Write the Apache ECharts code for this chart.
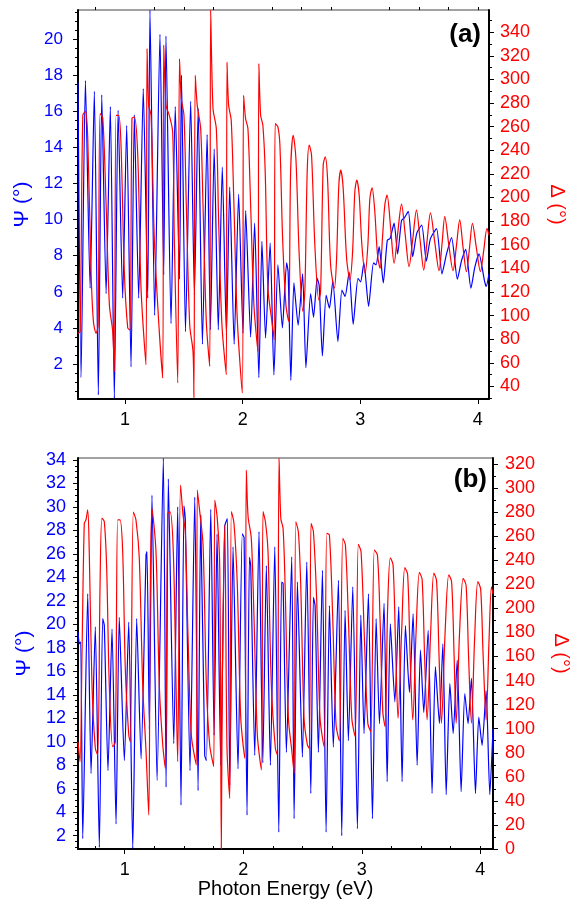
<!DOCTYPE html>
<html>
<head>
<meta charset="utf-8">
<script src="https://cdn.jsdelivr.net/npm/echarts@6/dist/echarts.min.js"></script>
<style>
html,body{margin:0;padding:0;background:#fff;}
#c{width:581px;height:908px;}
</style>
</head>
<body>
<div id="c"></div>
<script>
// ---------- Panel (a) ----------
const aPsiE = [0.600,0.626,0.663,0.703,0.739,0.773,0.802,0.839,0.875,0.909,0.941,0.980,1.014,1.051,1.079,1.116,1.155,1.193,1.212,1.252,1.297,1.329,1.348,1.391,1.427,1.463,1.480,1.514,1.558,1.590,1.622,1.658,1.698,1.726,1.758,1.793,1.827,1.862,1.890,1.928,1.966,2.003,2.026,2.068,2.102,2.138,2.164,2.195,2.234,2.266,2.300,2.338,2.374,2.387,2.410,2.436,2.472,2.510,2.538,2.578,2.603,2.634,2.651,2.678,2.710,2.738,2.767,2.810,2.844,2.871,2.906,2.940,2.981,3.003,3.031,3.071,3.113,3.135,3.161,3.196,3.230,3.254,3.288,3.318,3.351,3.375,3.409,3.446,3.481,3.523,3.562,3.597,3.649,3.695,3.734,3.777,3.826,3.862,3.897,3.941,3.974,4.010,4.057,4.071,4.095];
const aPsi  = [17.6,1.25,17.7,6.2,17.1,0.3,16.9,5.9,16.25,0.1,16.05,5.65,15.2,1.85,15.8,5.65,17.25,5.65,21.6,4.7,20.25,6.95,20.15,4.25,16.25,6.7,18.0,3.8,16.55,5.85,16.15,3.1,14.7,3.9,13.9,3.9,12.9,3.6,11.8,3.1,11.4,3.7,10.5,3.5,9.8,1.25,8.8,3.45,8.7,1.4,7.5,4.0,7.6,7.1,1.1,6.5,4.15,7.0,1.8,5.9,4.6,6.75,6.35,2.45,5.8,5.1,6.6,3.25,6.1,5.75,7.1,4.2,6.75,6.55,7.6,5.2,7.6,7.5,8.5,6.5,8.85,8.95,9.8,8.1,9.95,10.1,10.45,7.95,9.25,9.7,7.7,8.95,9.5,7.0,8.1,9.0,6.7,7.75,8.35,6.2,7.35,8.1,6.6,6.3,7.0];
const aDelE = [0.600,0.618,0.641,0.663,0.683,0.711,0.731,0.754,0.771,0.788,0.811,0.839,0.867,0.895,0.909,0.924,0.946,0.966,0.994,1.023,1.042,1.059,1.079,1.108,1.136,1.178,1.187,1.201,1.221,1.249,1.286,1.320,1.329,1.348,1.376,1.405,1.419,1.448,1.463,1.478,1.501,1.521,1.550,1.578,1.586,1.597,1.614,1.643,1.663,1.691,1.720,1.728,1.748,1.776,1.796,1.824,1.861,1.867,1.881,1.903,1.926,1.954,1.997,2.008,2.025,2.045,2.068,2.096,2.130,2.138,2.153,2.172,2.192,2.215,2.249,2.268,2.277,2.300,2.317,2.340,2.368,2.391,2.408,2.430,2.453,2.481,2.512,2.529,2.549,2.566,2.586,2.614,2.648,2.663,2.685,2.702,2.722,2.748,2.780,2.799,2.818,2.835,2.855,2.884,2.912,2.935,2.954,2.971,2.991,3.014,3.042,3.065,3.082,3.101,3.124,3.147,3.169,3.189,3.209,3.228,3.258,3.288,3.319,3.351,3.383,3.415,3.447,3.478,3.509,3.540,3.568,3.597,3.634,3.670,3.695,3.719,3.753,3.789,3.818,3.846,3.874,3.903,3.929,3.954,3.988,4.022,4.050,4.078,4.095];
const aDel  = [85,86.5,269.6,273,250,137,95,85,92,271,267,194,109,86.5,52.7,269.6,269.6,244,137,89.4,88,267,268,236,123,58.4,326,278,269.6,165,95,47,329,278,269.6,255.5,165,43,317.5,283.7,269.6,193.6,92,69.6,30.2,303.4,278,258.4,193.6,95,57,358.8,275.3,258.4,179.5,92,50,314.6,278,265.4,193.6,97.8,34.4,286.5,266.8,258.4,193.6,109,69.6,313.3,269.6,261.2,221.7,123.2,95,79.5,262.6,259.7,244.3,165.4,109,95,221.7,252.7,233,151.3,103.4,120.3,221.7,244.3,235.8,159.8,113.3,120.3,227.4,234.4,216.1,142.9,123.2,148.5,210.5,223.1,207.7,148.5,130.2,154.1,204.8,214.7,202,159.8,135.8,159.8,199.2,208.2,187.9,151.3,140.1,165.4,193.6,202,175,144.3,170,194.4,168,141.4,165,189.3,164,138.6,163,187,162,138,160,183.7,160,138,159,181,158,137.2,157,178,157,137.2,155,173.9,168];

// ---------- Panel (b) ----------
const bPsiE = [0.606,0.617,0.629,0.646,0.688,0.716,0.752,0.786,0.814,0.828,0.859,0.893,0.927,0.954,0.997,1.034,1.068,1.101,1.138,1.180,1.188,1.208,1.230,1.273,1.326,1.349,1.368,1.414,1.447,1.475,1.500,1.511,1.551,1.591,1.619,1.641,1.675,1.689,1.726,1.754,1.779,1.810,1.844,1.866,1.886,1.914,1.956,1.992,2.007,2.032,2.052,2.063,2.097,2.133,2.165,2.195,2.229,2.266,2.300,2.323,2.336,2.364,2.409,2.429,2.457,2.499,2.536,2.570,2.592,2.606,2.634,2.668,2.699,2.727,2.760,2.803,2.831,2.859,2.887,2.924,2.963,2.992,3.019,3.056,3.090,3.121,3.149,3.188,3.214,3.241,3.279,3.312,3.340,3.368,3.402,3.433,3.467,3.495,3.523,3.560,3.593,3.621,3.655,3.684,3.712,3.743,3.771,3.805,3.838,3.869,3.897,3.925,3.959,3.987,4.015,4.049,4.080,4.107];
const bPsi  = [19.35,18.35,18.5,1.75,22.6,7.3,19.8,1.0,20.5,19.9,7.55,19.6,3.0,20.6,8.4,20.2,0.9,20.5,8.55,25.9,26.2,11.1,31.0,6.7,34.17,6.15,32.4,9.85,30.0,4.6,30.1,29.0,7.55,30.85,5.85,29.3,8.85,8.4,29.8,10.55,27.7,8.0,28.4,29.0,6.3,26.6,7.7,27.7,27.4,3.75,25.7,25.0,8.85,27.9,8.2,25.0,8.0,26.6,2.3,23.6,23.5,9.1,25.75,3.45,23.6,8.7,25.3,5.6,22.3,21.6,9.1,24.6,2.3,21.6,9.55,23.75,2.0,21.2,10.1,23.2,2.6,20.8,10.7,22.6,3.45,20.5,11.55,21.8,6.6,20.05,13.4,21.5,6.6,19.9,14.2,20.9,8.0,17.8,12.5,19.5,5.6,16.4,11.55,18.35,5.5,14.95,10.7,16.95,5.75,14.1,11.55,15.4,5.6,12.1,9.7,14.35,5.5,11.1];
const bDelE = [0.606,0.623,0.640,0.659,0.673,0.688,0.701,0.724,0.752,0.772,0.792,0.808,0.828,0.848,0.870,0.899,0.921,0.941,0.960,0.983,1.005,1.034,1.047,1.073,1.095,1.123,1.152,1.180,1.203,1.214,1.230,1.264,1.292,1.321,1.343,1.363,1.382,1.410,1.433,1.447,1.471,1.492,1.511,1.534,1.562,1.604,1.613,1.633,1.661,1.689,1.717,1.751,1.760,1.781,1.802,1.815,1.824,1.844,1.863,1.886,1.900,1.922,1.950,1.979,2.013,2.026,2.041,2.068,2.091,2.119,2.153,2.167,2.187,2.209,2.237,2.271,2.288,2.302,2.317,2.336,2.353,2.381,2.409,2.429,2.443,2.465,2.485,2.513,2.541,2.558,2.572,2.592,2.620,2.648,2.682,2.705,2.727,2.755,2.783,2.811,2.840,2.862,2.887,2.916,2.944,2.971,2.994,3.022,3.051,3.076,3.106,3.132,3.154,3.177,3.197,3.218,3.241,3.264,3.285,3.306,3.336,3.363,3.387,3.408,3.430,3.458,3.486,3.509,3.530,3.551,3.581,3.608,3.631,3.652,3.672,3.703,3.734,3.758,3.779,3.796,3.825,3.855,3.880,3.901,3.925,3.952,3.979,4.003,4.024,4.049,4.074,4.094,4.107];
const bDel  = [89,72.6,164,270.6,273.5,281.8,247,136,84,78,219,275,272,233,136,85,89,273.5,273.5,247,150,95,89,280,273.5,241.6,136,81,28.3,192,283,247,136,86.5,67,279,280.4,247,136,72.6,302.5,277.6,263.7,178,94.8,69.9,298.4,280.4,252.7,136,86.5,68.5,290,274.8,233,0,142,269,83.7,42,280.4,270.6,219.4,108.6,75.4,315,276.2,258.2,191.7,94.8,65.7,280.4,272,247,136,83.7,78.2,325,274.8,266.5,219.4,108.6,82.3,62.9,272,263.7,219.4,108.6,86.5,83.7,270.6,263.7,205.6,108.6,85,262.3,261,191.7,103,89.8,258.2,252.7,191.7,108.6,93.4,253.2,247.1,175.1,104.4,97.5,248.5,244.4,191.7,114.2,101.7,200,242.1,236,170,108.6,180,233.8,228,160,107.3,180,229.9,224,160,107.3,180,229.4,223,160,104.5,180,227.8,222,160,104.5,180,224.9,219,160,104.5,175,222.2,216,160,107.3,175,218,212];

// ---------- Tick labels ----------
const xMajor = [1,2,3,4];
const xMinor = [0.75,1.25,1.5,1.75,2.25,2.5,2.75,3.25,3.5,3.75,4.0];
const aPsiTicks = [2,4,6,8,10,12,14,16,18,20];
const aDelTicks = [40,60,80,100,120,140,160,180,200,220,240,260,280,300,320,340];
const bPsiTicks = [2,4,6,8,10,12,14,16,18,20,22,24,26,28,30,32,34];
const bDelTicks = [0,20,40,60,80,100,120,140,160,180,200,220,240,260,280,300,320];

function minorOf(major, step, lo, hi){
  const out=[];
  for(let v=lo; v<=hi+1e-9; v+=step){
    const r=Math.round(v*1000)/1000;
    if(!major.some(m=>Math.abs(m-r)<1e-6)) out.push(r);
  }
  return out;
}
const zip=(xs,ys)=>xs.map((x,i)=>[x,ys[i]]);

const FONT = "'Liberation Sans', Arial, Helvetica, sans-serif";
const BLUE = '#0000ff', RED = '#ff0000';

function xAxes(grid, min, max, withName, margin){
  return [{
    type:'value', gridIndex:grid, min:min, max:max,
    axisLine:{show:true, lineStyle:{color:'#000', width:2}},
    axisTick:{show:true, length:5, customValues:xMajor, lineStyle:{color:'#000', width:1}},
    axisLabel:{show:true, customValues:xMajor, color:'#000', fontSize:18, fontFamily:FONT, margin:margin},
    splitLine:{show:false},
    name: withName ? 'Photon Energy (eV)' : '',
    nameLocation:'middle', nameGap:30,
    nameTextStyle:{color:'#000', fontSize:20, fontFamily:FONT}
  },{
    type:'value', gridIndex:grid, min:min, max:max,
    axisLine:{show:false},
    axisTick:{show:true, length:3, customValues:xMinor, lineStyle:{color:'#000', width:1}},
    axisLabel:{show:false}, splitLine:{show:false}
  }];
}
function yAxes(grid, psiMin, psiMax, psiTicks, psiMinorStep, delMin, delMax, delTicks, delMinorStep, psiFont, psiMargin, delMargin){
  return [{
    type:'value', gridIndex:grid, position:'left', min:psiMin, max:psiMax,
    axisLine:{show:true, lineStyle:{color:'#000', width:2}},
    axisTick:{show:true, length:5, customValues:psiTicks, lineStyle:{color:'#000'}},
    axisLabel:{customValues:psiTicks, color:BLUE, fontSize:psiFont, fontFamily:FONT, margin:psiMargin},
    splitLine:{show:false},
    name:'Ψ (°)', nameLocation:'middle', nameGap:42, nameRotate:90,
    nameTextStyle:{color:BLUE, fontSize:21, fontFamily:FONT}
  },{
    type:'value', gridIndex:grid, position:'right', min:delMin, max:delMax,
    axisLine:{show:true, lineStyle:{color:'#000', width:2}},
    axisTick:{show:true, length:5, customValues:delTicks, lineStyle:{color:'#000'}},
    axisLabel:{customValues:delTicks, color:RED, fontSize:18, fontFamily:FONT, margin:delMargin},
    splitLine:{show:false},
    name:'Δ (°)', nameLocation:'middle', nameGap:58, nameRotate:-90,
    nameTextStyle:{color:RED, fontSize:20, fontFamily:FONT}
  },{
    type:'value', gridIndex:grid, position:'left', min:psiMin, max:psiMax,
    axisLine:{show:false},
    axisTick:{show:true, length:3, customValues:minorOf(psiTicks, psiMinorStep, Math.ceil(psiMin/psiMinorStep)*psiMinorStep, psiMax), lineStyle:{color:'#000'}},
    axisLabel:{show:false}, splitLine:{show:false}
  },{
    type:'value', gridIndex:grid, position:'right', min:delMin, max:delMax,
    axisLine:{show:false},
    axisTick:{show:true, length:3, customValues:minorOf(delTicks, delMinorStep, Math.ceil(delMin/delMinorStep)*delMinorStep, delMax), lineStyle:{color:'#000'}},
    axisLabel:{show:false}, splitLine:{show:false}
  }];
}

const chart = echarts.init(document.getElementById('c'), null, {renderer:'canvas'});
chart.setOption({
  animation:false,
  backgroundColor:'#fff',
  textStyle:{fontFamily:FONT},
  title:[
    {text:'(a)', right:95, top:17, textStyle:{fontSize:26, fontWeight:'bold', color:'#000', fontFamily:FONT}},
    {text:'(b)', right:89, top:462, textStyle:{fontSize:26, fontWeight:'bold', color:'#000', fontFamily:FONT}}
  ],
  grid:[
    {left:78, right:92, top:10, height:389, show:true, borderColor:'#444', borderWidth:1, containLabel:false},
    {left:78, right:88, top:458, height:391, show:true, borderColor:'#444', borderWidth:1, containLabel:false}
  ],
  xAxis: [].concat(xAxes(0, 0.6, 4.095, false, 12), xAxes(1, 0.606, 4.107, true, 12)),
  yAxis: [].concat(
    yAxes(0, 0.07, 21.6, aPsiTicks, 0.5, 29.3, 358.8, aDelTicks, 10, 17, 15, 11),
    yAxes(1, 0.87, 34.17, bPsiTicks, 0.5, 0, 325, bDelTicks, 10, 18, 12, 12)
  ),
  series:[
    {type:'line', xAxisIndex:0, yAxisIndex:0, data:zip(aPsiE,aPsi), showSymbol:false, smooth:0.2, lineStyle:{color:BLUE, width:1.2}, itemStyle:{color:BLUE}},
    {type:'line', xAxisIndex:0, yAxisIndex:1, data:zip(aDelE,aDel), showSymbol:false, smooth:0.3, lineStyle:{color:RED, width:1.2}, itemStyle:{color:RED}},
    {type:'line', xAxisIndex:2, yAxisIndex:4, data:zip(bPsiE,bPsi), showSymbol:false, smooth:0.2, lineStyle:{color:BLUE, width:1.2}, itemStyle:{color:BLUE}},
    {type:'line', xAxisIndex:2, yAxisIndex:5, data:zip(bDelE,bDel), showSymbol:false, smooth:0.3, lineStyle:{color:RED, width:1.2}, itemStyle:{color:RED}}
  ]
});
</script>
</body>
</html>
